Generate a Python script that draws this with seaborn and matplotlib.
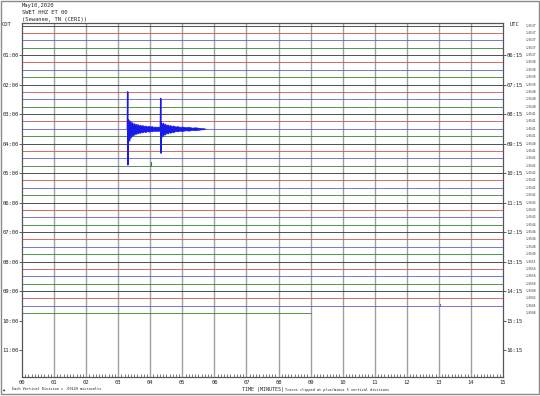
import matplotlib
matplotlib.use("Agg")
import matplotlib.pyplot as plt
import seaborn as sns
import pandas as pd
import numpy as np
from matplotlib.patches import Rectangle

# ---------------- data ----------------
title_lines = ["May10,2020", "SWET HHZ ET 00", "(Sewanee, TN (CERI))"]
n_traces = 40
trace_colors = ["#333333", "#d25050", "#6060d6", "#3a823a"]
trace_end_min = [15.0] * 39 + [9.0]
left_hour_labels = ["01:00", "02:00", "03:00", "04:00", "05:00", "06:00",
                    "07:00", "08:00", "09:00", "10:00", "11:00"]
right_hour_labels = ["06:15", "07:15", "08:15", "09:15", "10:15", "11:15",
                     "12:15", "13:15", "14:15", "15:15", "16:15"]
hour_trace_pos = [4, 8, 12, 16, 20, 24, 28, 32, 36, 40, 44]
trace_scale_vals = [1.6537, 1.6537, 1.6537, 1.6537, 1.6537, 1.6538, 1.6538, 1.6539,
                    1.6539, 1.6540, 1.6540, 1.6540, 1.6541, 1.6541, 1.6541, 1.6541,
                    1.6540, 1.6541, 1.6542, 1.6542, 1.6542, 1.6542, 1.6542, 1.6542,
                    1.6543, 1.6543, 1.6543, 1.6544, 1.6546, 1.6546, 1.6548, 1.6549,
                    1.6551, 1.6554, 1.6556, 1.6558, 1.6560, 1.6562, 1.6565, 1.6568]
minute_labels = ["00", "01", "02", "03", "04", "05", "06", "07", "08",
                 "09", "10", "11", "12", "13", "14", "15"]

# earthquake on trace 14 (03:30), amplitudes in vertical divisions (up = +)
event_trace = 14
spike1_min = [3.285, 3.295, 3.300, 3.305, 3.312]
spike1_amp = [0.0, 5.0, -4.9, 1.2, -1.8]
coda1_min = [3.31, 3.33, 3.35, 3.37, 3.39, 3.41, 3.43, 3.45, 3.48, 3.51, 3.54, 3.57,
             3.60, 3.64, 3.68, 3.72, 3.76, 3.80, 3.85, 3.90, 3.95, 4.00, 4.05, 4.10,
             4.15, 4.20, 4.25, 4.31]
coda1_up = [1.3, 0.9, 1.2, 0.8, 1.0, 0.7, 0.9, 0.6, 0.8, 0.55, 0.7, 0.5,
            0.65, 0.45, 0.55, 0.4, 0.5, 0.35, 0.45, 0.3, 0.4, 0.3, 0.35, 0.25,
            0.3, 0.25, 0.3, 0.2]
coda1_lo = [-2.0, -1.2, -1.6, -0.9, -1.2, -0.8, -1.0, -0.7, -0.9, -0.6, -0.75, -0.5,
            -0.65, -0.5, -0.55, -0.4, -0.5, -0.35, -0.45, -0.3, -0.4, -0.3, -0.35, -0.25,
            -0.3, -0.25, -0.3, -0.2]
spike2_min = [4.315, 4.325, 4.330, 4.335, 4.342]
spike2_amp = [0.0, 4.1, -3.3, 0.9, -1.2]
coda2_min = [4.34, 4.37, 4.40, 4.43, 4.46, 4.50, 4.54, 4.58, 4.62, 4.67, 4.72, 4.78,
             4.85, 4.92, 5.00, 5.10, 5.20, 5.30, 5.40, 5.55, 5.70]
coda2_up = [0.9, 0.6, 0.85, 0.5, 0.7, 0.45, 0.6, 0.4, 0.5, 0.35, 0.45, 0.3,
            0.35, 0.25, 0.3, 0.2, 0.25, 0.15, 0.2, 0.1, 0.05]
coda2_lo = [-1.3, -0.7, -1.0, -0.6, -0.8, -0.5, -0.65, -0.45, -0.55, -0.4, -0.45, -0.3,
            -0.35, -0.25, -0.3, -0.2, -0.25, -0.15, -0.2, -0.1, -0.05]
blip_trace = [19, 38]
blip_min = [4.02, 13.02]
blip_amp = [0.45, 0.25]

# ---------------- figure ----------------
sns.set_style("white")
plt.rcParams["font.family"] = ["DejaVu Sans Mono", "DejaVu Sans"]

fig = plt.figure(figsize=(5.4, 3.96), dpi=100)
ax = fig.add_axes([22 / 540, 19 / 396, 481 / 540, (377 - 22.7) / 396])

# minute grid
for m in range(1, 15):
    ax.axvline(m, color="#a0a0a0", lw=1.0, zorder=1)

# traces
rows = []
for i in range(n_traces):
    rows.append({"minute": 0.0, "y": i, "trace": i})
    rows.append({"minute": trace_end_min[i], "y": i, "trace": i})
df = pd.DataFrame(rows)
pal = {i: trace_colors[i % 4] for i in range(n_traces)}
sns.lineplot(data=df, x="minute", y="y", hue="trace", palette=pal, units="trace",
             estimator=None, lw=0.6, legend=False, ax=ax, zorder=2)

ev_col = "#1a1ae6"
ax.fill_between(coda1_min, [event_trace - a for a in coda1_up],
                [event_trace - a for a in coda1_lo], color=ev_col, lw=0.5, zorder=3)
ax.fill_between(coda2_min, [event_trace - a for a in coda2_up],
                [event_trace - a for a in coda2_lo], color=ev_col, lw=0.5, zorder=3)
sns.lineplot(x=spike1_min, y=[event_trace - a for a in spike1_amp], sort=False,
             estimator=None, color=ev_col, lw=1.0, ax=ax, zorder=4)
sns.lineplot(x=spike2_min, y=[event_trace - a for a in spike2_amp], sort=False,
             estimator=None, color=ev_col, lw=1.0, ax=ax, zorder=4)
for tr, m, a in zip(blip_trace, blip_min, blip_amp):
    ax.plot([m, m], [tr, tr - a], color=trace_colors[tr % 4], lw=0.8, zorder=3)

ymax = 47.66
ymin = -0.38
ax.set_xlim(0, 15)
ax.set_ylim(ymax, ymin)

for s in ax.spines.values():
    s.set_color("#555555")
    s.set_linewidth(0.9)

fs = 4
ax.set_xticks(range(16))
ax.set_xticklabels(minute_labels, fontsize=fs)
ax.set_xticks(np.arange(0, 15.01, 0.1), minor=True)
ax.tick_params(axis="x", which="major", direction="in", length=5, width=0.6,
               color="#444444", pad=2)
ax.tick_params(axis="x", which="minor", direction="in", length=2.5, width=0.5,
               color="#444444", bottom=True)
ax.set_xlabel("")
ax.set_ylabel("")

ax.set_yticks(hour_trace_pos)
ax.set_yticklabels(left_hour_labels, fontsize=fs)
ax.tick_params(axis="y", which="major", direction="out", length=2, width=0.6,
               color="#444444", pad=0.5, left=True)

ax2 = ax.twinx()
ax2.set_ylim(ymax, ymin)
ax2.set_yticks(hour_trace_pos)
ax2.set_yticklabels(right_hour_labels, fontsize=fs)
ax2.tick_params(axis="y", direction="out", length=2, width=0.6, color="#444444",
                pad=0.5, right=True)
for s in ax2.spines.values():
    s.set_visible(False)

# per-trace scale numbers
for i, v in enumerate(trace_scale_vals):
    ax.text(1.048, i, f"{v:.4f}", transform=ax.get_yaxis_transform(),
            fontsize=2.2, va="center", ha="left", color="#333333")

# texts
for k, t in enumerate(title_lines):
    fig.text(22 / 540, 1 - (6 + 7 * k) / 396, t, fontsize=fs, va="center", ha="left")
fig.text(2 / 540, 1 - 24 / 396, "CDT", fontsize=fs, va="center", ha="left")
fig.text(510 / 540, 1 - 24 / 396, "UTC", fontsize=fs, va="center", ha="left")
fig.text(263 / 540, 1 - 389 / 396, "TIME (MINUTES)", fontsize=3.6, va="center",
         ha="center")
fig.text(285 / 540, 1 - 389.5 / 396, "Traces clipped at plus/minus 5 vertical divisions",
         fontsize=2.6, va="center", ha="left")
fig.text(3 / 540, 1 - 390 / 396, "\u25b2", fontsize=2.6, va="center", ha="left")
fig.text(12 / 540, 1 - 389.5 / 396, "Each Vertical Division = .09149 microvolts",
         fontsize=2.6, va="center", ha="left")

fig.patches.append(Rectangle((0.001, 0.004), 0.997, 0.994, transform=fig.transFigure,
                             fill=False, edgecolor="#8a8a8a", lw=1.0))

fig.savefig("out.png", dpi=100)
